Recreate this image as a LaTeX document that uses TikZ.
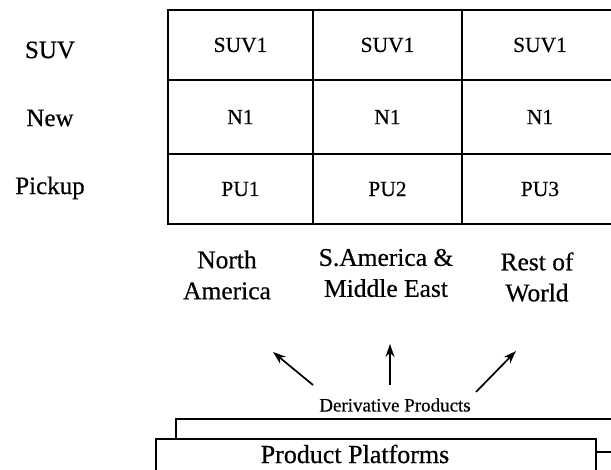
\documentclass[tikz,border=0pt]{standalone}
\usepackage{fontspec}
\setmainfont{Liberation Serif}[FakeBold=0.5]
\usetikzlibrary{arrows.meta}
\begin{document}
\begin{tikzpicture}[x=1pt,y=-1pt,
  rule/.style={line width=1.8pt},
  cell/.style={draw,line width=1.8pt,minimum height=#1,inner sep=0pt,
               font=\fontsize{21.5}{25}\selectfont},
  cell/.default=72pt,
  rowlabel/.style={font=\fontsize{25}{30}\selectfont},
  region/.style={align=center,font=\fontsize{25.5}{31}\selectfont},
  spread/.style={line width=1.7pt,-{Stealth[length=13pt,width=9pt]}},
  layer/.style={draw,line width=1.8pt,fill=white,inner sep=0pt,anchor=north west}]
\useasboundingbox (0,0) rectangle (611,470);

% product matrix: rows are vehicle types, columns are regions
\node[cell=70pt,minimum width=145pt] (s1) at (240.5,45) {SUV1};
\node[cell=70pt,minimum width=149pt] (s2) at (387.5,45) {SUV1};
\node[cell=70pt,minimum width=156pt] (s3) at (540,45) {SUV1};
\node[cell=74pt,minimum width=145pt] (n1) at (240.5,117) {N1};
\node[cell=74pt,minimum width=149pt] (n2) at (387.5,117) {N1};
\node[cell=74pt,minimum width=156pt] (n3) at (540,117) {N1};
\node[cell=70pt,minimum width=145pt] (p1) at (240.5,189) {PU1};
\node[cell=70pt,minimum width=149pt] (p2) at (387.5,189) {PU2};
\node[cell=70pt,minimum width=156pt] (p3) at (540,189) {PU3};

% row labels
\node[rowlabel] (suv) at (50,50) {SUV};
\node[rowlabel] (new) at (50,118) {New};
\node[rowlabel] (pick) at (50,188) {Pickup};

% column labels
\node[region] (na) at (227,275) {North\\America};
\node[region] (sa) at (386,273) {S.America \&\\Middle East};
\node[region] (rw) at (537,277) {Rest of\\World};

% platform layers
\node[layer,minimum width=470pt,minimum height=60pt] (back) at (175,418) {};
\coordinate (stub) at (611,452);
\node[layer,minimum width=440pt,minimum height=45pt] (front) at (155,438) {};
\draw[rule] (front.east |- stub) -- (stub);
\node[font=\fontsize{26}{30}\selectfont] (pp) at (355,454) {Product Platforms};
\node[font=\fontsize{19}{22}\selectfont] (dp) at (395,405) {Derivative Products};

% derivative products spread to the regions
\coordinate (t1) at (313,385);
\coordinate (h1) at (273,352);
\coordinate (t2) at (390,385);
\coordinate (h2) at (390,344);
\coordinate (t3) at (476,392);
\coordinate (h3) at (516,351);
\draw[spread] (t1) -- (h1);
\draw[spread] (t2) -- (h2);
\draw[spread] (t3) -- (h3);
\end{tikzpicture}
\end{document}
